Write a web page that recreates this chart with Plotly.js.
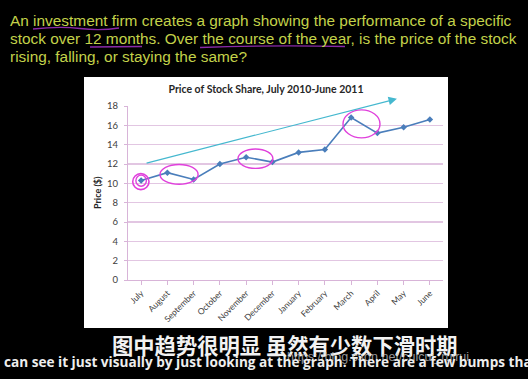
<!DOCTYPE html>
<html>
<head>
<meta charset="utf-8">
<script src="https://cdn.plot.ly/plotly-3.0.1.min.js"></script>
<style>html,body{margin:0;padding:0;background:#000;}#chart{width:528px;height:379px;}</style>
</head>
<body>
<div id="chart"></div>
<script>
// ---- data ----
const months = ["July","August","September","October","November","December","January","February","March","April","May","June"];
const prices = [10.3, 11.1, 10.4, 12.0, 12.7, 12.2, 13.2, 13.5, 16.8, 15.2, 15.8, 16.6];
const yTicks = [0, 2, 4, 6, 8, 10, 12, 14, 16, 18];
const chartTitle = "Price of Stock Share, July 2010-June 2011";
const yTitle = "Price ($)";
const questionLines = [
  "An investment firm creates a graph showing the performance of a specific",
  "stock over 12 months. Over the course of the year, is the price of the stock",
  "rising, falling, or staying the same?"
];
const subtitleZh = "图中趋势很明显 虽然有少数下滑时期";
const subtitleEn = "can see it just visually by just looking at the graph. There are a few bumps tha";
const watermark = "https://blog.csdn.net/cuicui_ruirui";

// ---- layout geometry (pixels) ----
const W = 528, H = 379;
const L = 128, R = 443, T = 106, B = 280;
const px = v => (v - L) / (R - L);
const py = v => (B - v) / (B - T);

const pink = '#e040dc';
const purple = '#8a2aa8';

const shapes = [
  {type:'rect', xref:'paper', yref:'paper', x0:px(84), x1:px(448), y0:py(328), y1:py(77), fillcolor:'#ffffff', line:{width:0}, layer:'below'},
  // handwritten underlines
  {type:'path', xref:'paper', yref:'paper', path:`M ${px(33)} ${py(29)} Q ${px(60)} ${py(26)} ${px(80)} ${py(28.5)} T ${px(119)} ${py(28)}`, line:{color:purple, width:1.3}},
  {type:'path', xref:'paper', yref:'paper', path:`M ${px(90)} ${py(47)} L ${px(142)} ${py(46.5)}`, line:{color:purple, width:1.3}},
  {type:'path', xref:'paper', yref:'paper', path:`M ${px(200)} ${py(47.5)} Q ${px(270)} ${py(45)} ${px(345)} ${py(46.5)}`, line:{color:purple, width:1.3}},
  // pink circles (data coords)
  {type:'circle', xref:'x', yref:'y', x0:-0.32, x1:0.3, y0:9.35, y1:11.0, line:{color:pink, width:1.6}},
  {type:'circle', xref:'x', yref:'y', x0:-0.2, x1:0.2, y0:9.7, y1:10.85, line:{color:pink, width:1.4}},
  {type:'circle', xref:'x', yref:'y', x0:0.72, x1:2.17, y0:9.9, y1:11.95, line:{color:pink, width:1.4}},
  {type:'circle', xref:'x', yref:'y', x0:3.69, x1:5.02, y0:11.55, y1:13.55, line:{color:pink, width:1.4}},
  {type:'circle', xref:'x', yref:'y', x0:7.69, x1:9.1, y0:14.7, y1:17.6, line:{color:pink, width:1.4}}
];

const annotations = [];
questionLines.forEach((t, i) => {
  annotations.push({xref:'paper', yref:'paper', x:px(8), y:py(20 + i*18), xanchor:'left', yanchor:'middle',
    text:t, showarrow:false, font:{family:'Liberation Sans, Arial, sans-serif', size:15.4, color:'#c3d24a'}});
});
annotations.push({xref:'paper', yref:'paper', x:px(97), y:0.5, textangle:-90, xanchor:'center', yanchor:'middle',
  text:'<b>'+yTitle+'</b>', showarrow:false, font:{family:'Lato, Open Sans, sans-serif', size:9, color:'#262626'}});
annotations.push({xref:'x', yref:'y', axref:'x', ayref:'y', x:9.745, y:18.75, ax:0.15, ay:12.05, text:'',
  showarrow:true, arrowhead:2, arrowsize:1.4, arrowwidth:1.2, arrowcolor:'#45b8cf', standoff:0, startstandoff:0});
annotations.push({xref:'paper', yref:'paper', x:px(285), y:py(344), xanchor:'center', yanchor:'middle',
  text:'<b>'+subtitleZh+'</b>', showarrow:false, font:{family:'Noto Sans CJK SC', size:21.3, color:'#f2f2f2'}});
annotations.push({xref:'paper', yref:'paper', x:px(285), y:py(357), xanchor:'left', yanchor:'middle',
  text:watermark, showarrow:false, font:{family:'Liberation Sans, Arial, sans-serif', size:12.5, color:'rgba(200,200,200,0.75)'}});
annotations.push({xref:'paper', yref:'paper', x:px(2), y:py(361), xanchor:'left', yanchor:'middle',
  text:'<b>'+subtitleEn+'</b>', showarrow:false, font:{family:'Open Sans, sans-serif', size:13.6, color:'#eeeeee'}});

const trace = {
  x: months, y: prices, type:'scatter', mode:'lines+markers',
  line:{color:'#4a7ebb', width:1.6},
  marker:{symbol:'diamond', size:5, color:'#4a7ebb'},
  cliponaxis:false, hoverinfo:'skip'
};

const layout = {
  width:W, height:H,
  margin:{l:L, r:W-R, t:T, b:H-B, pad:0},
  paper_bgcolor:'#000000', plot_bgcolor:'#ffffff',
  showlegend:false,
  title:{text:'<b>'+chartTitle+'</b>', xref:'paper', x:px(266), xanchor:'center', yref:'container', y:1-89.7/H, yanchor:'middle',
    font:{family:'Lato, Open Sans, sans-serif', size:10.5, color:'#262626'}},
  xaxis:{type:'category', categoryorder:'array', categoryarray:months, range:[-0.5, 11.5],
    tickangle:-45, ticks:'outside', ticklen:4, tickcolor:'#d8b4d8', showline:true, linecolor:'#d8b4d8', linewidth:1,
    showgrid:false, zeroline:false, fixedrange:true,
    tickfont:{family:'Lato, Open Sans, sans-serif', size:8.5, color:'#404040'}},
  yaxis:{range:[0,18], tickvals:yTicks, ticktext:yTicks.map(String), ticks:'outside', ticklen:3, tickcolor:'#d8b4d8',
    showline:true, linecolor:'#d8b4d8', linewidth:1, gridcolor:'#e2c6e2', gridwidth:1.2, zeroline:false, fixedrange:true,
    ticklabelstandoff:4,
    tickfont:{family:'Lato, Open Sans, sans-serif', size:9.5, color:'#404040'}},
  shapes:shapes,
  annotations:annotations
};

Plotly.newPlot('chart', [trace], layout, {staticPlot:true, displayModeBar:false});
</script>
</body>
</html>
